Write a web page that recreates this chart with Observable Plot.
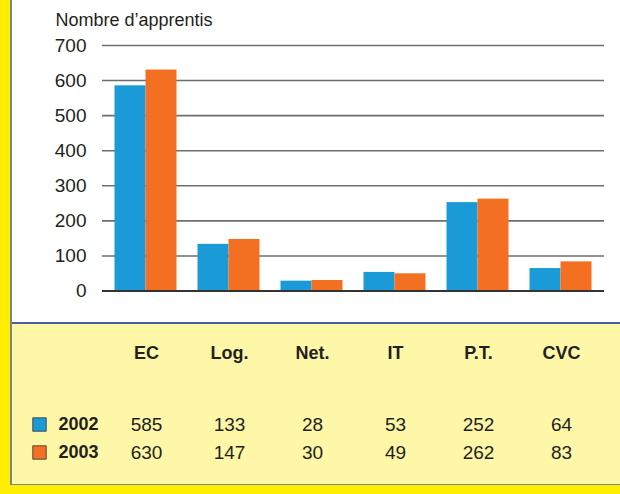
<!DOCTYPE html>
<html>
<head>
<meta charset="utf-8">
<script src="https://cdn.jsdelivr.net/npm/d3@7"></script>
<script src="https://cdn.jsdelivr.net/npm/@observablehq/plot@0.6"></script>
<style>
  body { margin: 0; background: #fff; }
  #frame { position: relative; width: 620px; height: 494px; overflow: hidden; background: #fff;
           font-family: "Liberation Sans", Arial, Helvetica, sans-serif; }
  #chart, #table { position: absolute; left: 0; }
  #chart { top: 0; }
  #table { top: 323px; }
  .deco { position: absolute; }
</style>
</head>
<body>
<div id="frame">
  <div id="chart"></div>
  <div id="table"></div>
  <div class="deco" style="left:0;top:322px;width:620px;height:1.5px;background:#4b5f98;"></div>
  <div class="deco" style="left:0;top:484px;width:620px;height:1px;background:#7d8494;"></div>
  <div class="deco" style="left:0;top:485px;width:620px;height:9px;background:#ffee00;"></div>
  <div class="deco" style="left:0;top:0;width:10px;height:494px;background:#ffee00;"></div>
  <div class="deco" style="left:10px;top:0;width:1.5px;height:485px;background:#7a8592;"></div>
</div>
<script>
// ---- data ----
const categories = ["EC", "Log.", "Net.", "IT", "P.T.", "CVC"];
const years = ["2002", "2003"];
const values2002 = [585, 133, 28, 53, 252, 64];
const values2003 = [630, 147, 30, 49, 262, 83];
const yTicks = [0, 100, 200, 300, 400, 500, 600, 700];
const yTitle = "Nombre d\u2019apprentis";

const colors = {"2002": "#1a9ad6", "2003": "#f37022"};
const font = "\"Liberation Sans\", Arial, Helvetica, sans-serif";
const ink = "#231f20";

const rows2002 = categories.map((c, i) => ({cat: c, year: "2002", value: values2002[i]}));
const rows2003 = categories.map((c, i) => ({cat: c, year: "2003", value: values2003[i]}));
const allRows = rows2002.concat(rows2003);

const xScale = {domain: categories, paddingInner: 0.63, paddingOuter: 0.315, axis: null};

const chart = Plot.plot({
  width: 620, height: 323,
  marginLeft: 102, marginRight: 16, marginTop: 45, marginBottom: 32.5,
  x: xScale,
  y: {domain: [0, 700], axis: null},
  style: {fontFamily: font, fontSize: "18px", color: ink, background: "transparent"},
  marks: [
    Plot.ruleY(yTicks.filter(d => d > 0), {stroke: "#6e6e6e", strokeWidth: 1.6}),
    Plot.barY(rows2002, {x: "cat", y: "value", fill: colors["2002"], dx: -15.5}),
    Plot.barY(rows2003, {x: "cat", y: "value", fill: colors["2003"], dx: 15.5}),
    Plot.ruleY([0], {stroke: "#333", strokeWidth: 2}),
    Plot.axisY({ticks: yTicks, tickSize: 0, tickPadding: 16, fontSize: 19, label: null, fill: ink}),
    Plot.text([yTitle], {frameAnchor: "top-left", dx: -47, dy: -20, textAnchor: "start", lineAnchor: "bottom", fontSize: 18, fill: ink})
  ]
});
document.getElementById("chart").append(chart);

const table = Plot.plot({
  width: 620, height: 162,
  marginLeft: 102, marginRight: 16, marginTop: 101, marginBottom: 33,
  x: xScale,
  y: {type: "point", domain: years, padding: 0, axis: null},
  style: {fontFamily: font, fontSize: "18px", color: ink, background: "#fff7a8"},
  marks: [
    Plot.text(categories, {x: d => d, text: d => d, frameAnchor: "top", dy: -78, fontWeight: "bold", fontSize: 18, fill: ink}),
    Plot.text(allRows, {x: "cat", y: "year", text: d => String(d.value), fontSize: 19, fill: ink}),
    Plot.dot(years, {y: d => d, frameAnchor: "left", dx: -63, symbol: "square", r: 7.6, fill: d => colors[d], stroke: "#333", strokeWidth: 0.8}),
    Plot.text(years, {y: d => d, text: d => d, frameAnchor: "left", dx: -4, textAnchor: "end", fontWeight: "bold", fontSize: 18, fill: ink})
  ]
});
document.getElementById("table").append(table);
</script>
</body>
</html>
